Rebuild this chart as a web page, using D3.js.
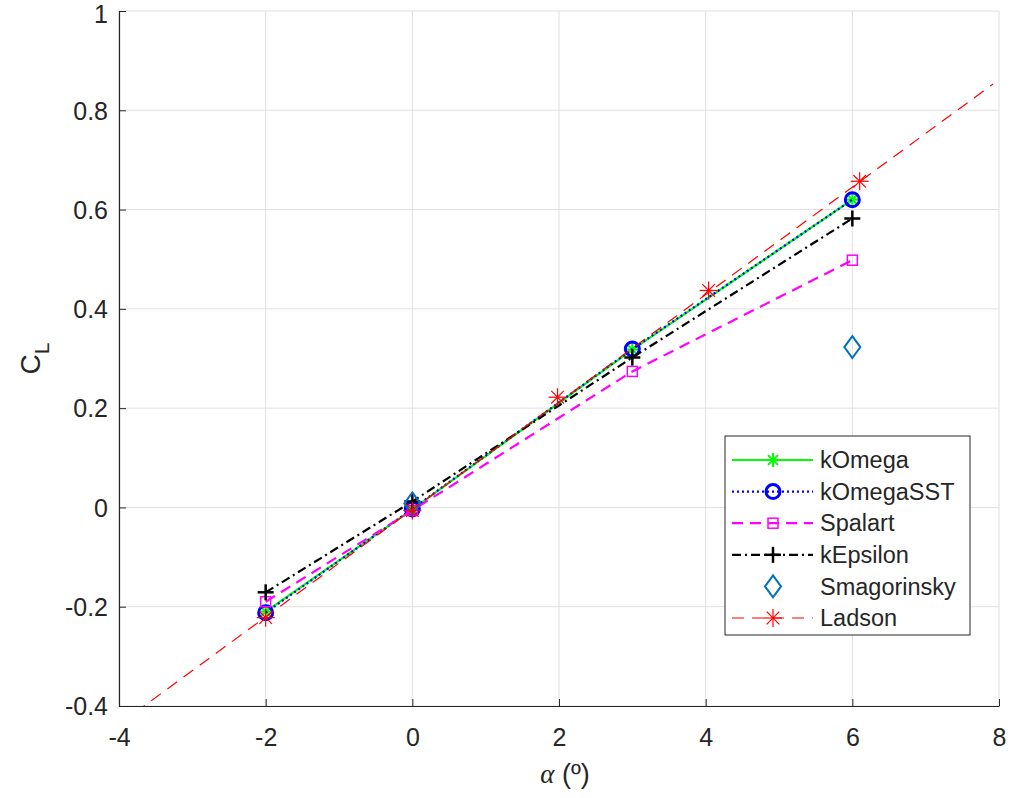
<!DOCTYPE html>
<html>
<head>
<meta charset="utf-8">
<script src="https://cdn.jsdelivr.net/npm/d3@7.9.0/dist/d3.min.js"></script>
<style>
  body { margin: 0; background: #fff; }
  svg { font-family: Arial, "Liberation Sans", sans-serif; }
</style>
</head>
<body>
<svg id="chart" width="1010" height="798"></svg>
<script>
// data
const alphaRuns = [-2, 0, 3, 6];
const kOmega = [-0.210, -0.004, 0.318, 0.620];
const kOmegaSST = [-0.212, -0.003, 0.319, 0.620];
const spalart = [-0.190, -0.006, 0.274, 0.498];
const kEpsilon = [-0.171, 0.012, 0.302, 0.582];
const smagAlpha = [0, 6];
const smagorinsky = [0.008, 0.323];
const ladsonAlpha = [-2, 0, 1.98, 4.04, 6.1];
const ladsonCl = [-0.222, -0.006, 0.222, 0.437, 0.657];
const ladsonFitAlpha = [-4, 7.92];
const ladsonFitCl = [-0.437, 0.853];
const xTicks = [-4, -2, 0, 2, 4, 6, 8];
const yTicks = [-0.4, -0.2, 0, 0.2, 0.4, 0.6, 0.8, 1];

const margin = { left: 119, right: 11, top: 11, bottom: 92 };
const width = 1010, height = 798;

const svg = d3.select("#chart");
const x = d3.scaleLinear().domain([-4, 8]).range([margin.left, width - margin.right]);
const y = d3.scaleLinear().domain([-0.4, 1]).range([height - margin.bottom, margin.top]);

// grid
const grid = svg.append("g");
xTicks.forEach(t => grid.append("line")
  .attr("x1", x(t)).attr("x2", x(t)).attr("y1", y(-0.4)).attr("y2", y(1))
  .attr("stroke", "#e0e0e0").attr("stroke-width", 1));
yTicks.forEach(t => grid.append("line")
  .attr("x1", x(-4)).attr("x2", x(8)).attr("y1", y(t)).attr("y2", y(t))
  .attr("stroke", "#e0e0e0").attr("stroke-width", 1));

// axes (plain hyphen minus like the original)
const fmt = d => String(+d.toFixed(1));
const xAxis = svg.append("g")
  .attr("transform", `translate(0,${y(-0.4)})`)
  .call(d3.axisBottom(x).tickValues(xTicks).tickSizeInner(-7).tickSizeOuter(0).tickPadding(22).tickFormat(fmt));
const yAxis = svg.append("g")
  .attr("transform", `translate(${x(-4)},0)`)
  .call(d3.axisLeft(y).tickValues(yTicks).tickSizeInner(-7).tickSizeOuter(0).tickPadding(11).tickFormat(fmt));
[xAxis, yAxis].forEach(a => {
  a.selectAll("path").attr("stroke", "#262626").attr("stroke-width", 1.2);
  a.selectAll("line").attr("stroke", "#262626");
  a.selectAll("text").attr("fill", "#262626").style("font-size", "25px")
    .style("font-family", "Arial, 'Liberation Sans', sans-serif");
});
// top label sits right at the window edge, nudge it down a little
yAxis.selectAll("text").attr("dy", d => d === 1 ? "0.45em" : "0.35em");

// axis labels
svg.append("text")
  .attr("x", 565).attr("y", 783)
  .attr("text-anchor", "middle").attr("fill", "#262626").style("font-size", "27px")
  .html('<tspan font-family="\'Liberation Serif\', serif" font-style="italic">α</tspan> (º)');
svg.append("text")
  .attr("transform", `translate(40,${y(0.3)}) rotate(-90)`)
  .attr("text-anchor", "middle").attr("fill", "#262626").style("font-size", "28px")
  .html('C<tspan dy="9" font-size="21px">L</tspan>');

// clip
svg.append("clipPath").attr("id", "clip").append("rect")
  .attr("x", x(-4)).attr("y", y(1)).attr("width", x(8) - x(-4)).attr("height", y(-0.4) - y(1));
const plot = svg.append("g").attr("clip-path", "url(#clip)");
const line = d3.line().x(d => x(d[0])).y(d => y(d[1]));

// marker drawing
function marker(g, type, cx, cy, color) {
  if (type === "star" || type === "thinstar") {
    const r = type === "star" ? 7 : 9;
    const w = type === "star" ? 2 : 1.2;
    [[-r, 0, r, 0], [0, -r, 0, r], [-r * 0.7, -r * 0.7, r * 0.7, r * 0.7], [-r * 0.7, r * 0.7, r * 0.7, -r * 0.7]]
      .forEach(s => g.append("line").attr("x1", cx + s[0]).attr("y1", cy + s[1]).attr("x2", cx + s[2]).attr("y2", cy + s[3])
        .attr("stroke", color).attr("stroke-width", w));
  } else if (type === "circle") {
    g.append("circle").attr("cx", cx).attr("cy", cy).attr("r", 7)
      .attr("fill", "none").attr("stroke", color).attr("stroke-width", 3);
  } else if (type === "square") {
    g.append("rect").attr("x", cx - 5).attr("y", cy - 5).attr("width", 10).attr("height", 10)
      .attr("fill", "none").attr("stroke", color).attr("stroke-width", 1.5);
  } else if (type === "plus") {
    g.append("line").attr("x1", cx - 8).attr("x2", cx + 8).attr("y1", cy).attr("y2", cy).attr("stroke", color).attr("stroke-width", 2.5);
    g.append("line").attr("x1", cx).attr("x2", cx).attr("y1", cy - 8).attr("y2", cy + 8).attr("stroke", color).attr("stroke-width", 2.5);
  } else if (type === "diamond") {
    g.append("path").attr("d", `M${cx},${cy - 11}L${cx + 8},${cy}L${cx},${cy + 11}L${cx - 8},${cy}Z`)
      .attr("fill", "none").attr("stroke", color).attr("stroke-width", 2);
  }
}

const series = [
  { name: "kOmega", xs: alphaRuns, ys: kOmega, color: "#00ff00", dash: null, lw: 2.2, mk: "star" },
  { name: "kOmegaSST", xs: alphaRuns, ys: kOmegaSST, color: "#0000ff", dash: "2,3", lw: 2.2, mk: "circle" },
  { name: "Spalart", xs: alphaRuns, ys: spalart, color: "#ff00ff", dash: "11,7", lw: 2.2, mk: "square" },
  { name: "kEpsilon", xs: alphaRuns, ys: kEpsilon, color: "#000000", dash: "9,4,2,4", lw: 2.2, mk: "plus" },
  { name: "Smagorinsky", xs: smagAlpha, ys: smagorinsky, color: "#0072bd", dash: "none", lw: 0, mk: "diamond" },
  { name: "Ladson", xs: ladsonAlpha, ys: ladsonCl, color: "#ff0000", dash: "12,8", lw: 1.2, mk: "thinstar",
    fitX: ladsonFitAlpha, fitY: ladsonFitCl }
];

series.forEach(s => {
  const g = plot.append("g");
  if (s.dash !== "none") {
    const pts = s.fitX ? d3.zip(s.fitX, s.fitY) : d3.zip(s.xs, s.ys);
    g.append("path").attr("d", line(pts)).attr("fill", "none")
      .attr("stroke", s.color).attr("stroke-width", s.lw)
      .attr("stroke-dasharray", s.dash);
  }
  d3.zip(s.xs, s.ys).forEach(d => marker(g, s.mk, x(d[0]), y(d[1]), s.color));
});

// legend
const lg = svg.append("g").attr("transform", "translate(725,436)");
lg.append("rect").attr("width", 245).attr("height", 199)
  .attr("fill", "#fff").attr("stroke", "#262626").attr("stroke-width", 1);
series.forEach((s, i) => {
  const cy = 24 + i * 31.6;
  if (s.dash !== "none") {
    lg.append("line").attr("x1", 7).attr("x2", 88).attr("y1", cy).attr("y2", cy)
      .attr("stroke", s.color).attr("stroke-width", s.lw).attr("stroke-dasharray", s.dash);
  }
  marker(lg, s.mk, 48, cy, s.color);
  lg.append("text").attr("x", 95).attr("y", cy).attr("dy", "0.35em")
    .attr("fill", "#262626").style("font-size", "23.5px").text(s.name);
});
</script>
</body>
</html>
